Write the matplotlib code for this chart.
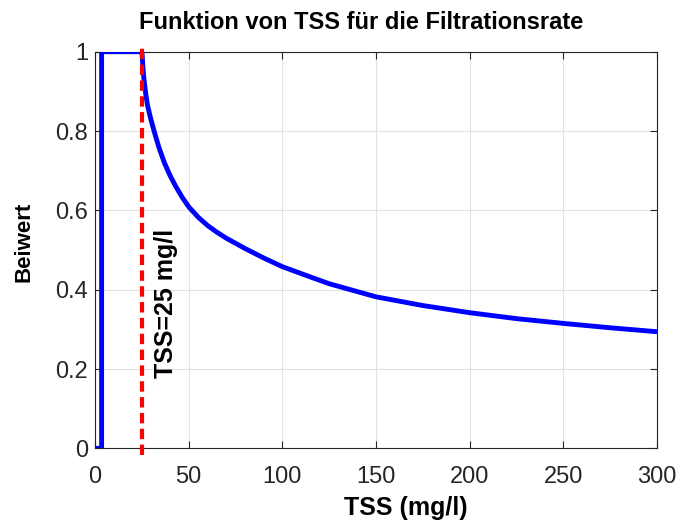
import matplotlib
matplotlib.use("Agg")
import matplotlib.pyplot as plt

plt.rcParams['font.family'] = ['Liberation Sans', 'DejaVu Sans']

# Beiwert als Funktion von TSS (mg/l)
tss = [0, 3.5, 3.5, 25, 25.5, 26, 27, 28, 29.5, 31.5, 34, 37, 40, 43, 46.5,
       50, 55, 60, 65, 70, 75, 80, 90, 100, 115, 125, 150, 175, 200, 225,
       250, 275, 300]
beiwert = [0, 0, 1, 1, 0.965, 0.935, 0.895, 0.865, 0.835, 0.80, 0.76, 0.72,
           0.688, 0.661, 0.633, 0.609, 0.583, 0.562, 0.545, 0.530, 0.517,
           0.504, 0.48, 0.458, 0.432, 0.415, 0.382, 0.36, 0.342, 0.327,
           0.315, 0.304, 0.294]
tss_grenze = 25

fig = plt.figure(figsize=(6.79, 5.25), dpi=100)
ax = fig.add_axes([0.140, 0.146, 0.8277, 0.7555])

ax.plot(tss, beiwert, color='#0000ff', linewidth=3.5, zorder=3,
        solid_joinstyle='round', solid_capstyle='butt')
ax.plot([tss_grenze, tss_grenze], [-0.017, 1.017], color='#ff0000',
        linestyle=(0, (2.5, 1.3)), linewidth=3, clip_on=False, zorder=4)
ax.text(37.8, 0.177, 'TSS=%d mg/l' % tss_grenze, rotation=90, ha='center',
        va='bottom', fontsize=18, fontweight='bold', color='black')

ax.set_xlim(0, 300)
ax.set_ylim(0, 1)
ax.set_xticks([0, 50, 100, 150, 200, 250, 300])
ax.set_yticks([0, 0.2, 0.4, 0.6, 0.8, 1])
ax.set_yticklabels(['0', '0.2', '0.4', '0.6', '0.8', '1'])

ax.grid(True, color='#e2e2e2', linewidth=0.8)
ax.set_axisbelow(True)
ax.tick_params(direction='in', top=True, right=True, length=5, width=0.8,
               colors='#262626', labelsize=17)
ax.tick_params(axis='x', pad=12.5)
ax.tick_params(axis='y', pad=5)
for s in ax.spines.values():
    s.set_color('#262626')
    s.set_linewidth(0.8)

# Titel und Achsenbeschriftungen
fig.text(361.5 / 679, 1 - 29.3 / 525, 'Funktion von TSS für die Filtrationsrate',
         ha='center', va='baseline', fontsize=17, fontweight='bold')
fig.text(406 / 679, 1 - 515 / 525, 'TSS (mg/l)', ha='center', va='baseline',
         fontsize=18, fontweight='bold')
fig.text(24 / 679, 1 - 241.5 / 525, 'Beiwert', ha='center', va='center',
         rotation=90, fontsize=16, fontweight='bold')

fig.savefig('out.png', dpi=100)
